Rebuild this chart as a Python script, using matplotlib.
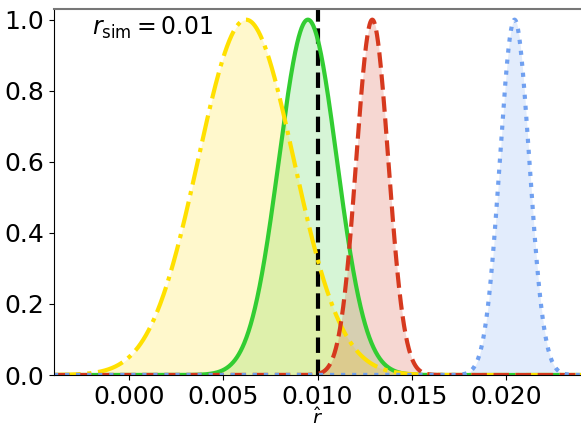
import numpy as np
import matplotlib
matplotlib.use("Agg")
import matplotlib.pyplot as plt

# Simulated rate and the estimated distributions of r-hat (normalised to peak 1)
r_sim = 0.01
names = ["est_b", "est_a", "est_c", "est_d"]
centers = [0.00949, 0.0062, 0.01291, 0.02047]
widths = [0.00154, 0.00254, 0.00085, 0.00078]
line_colors = ["#32CD32", "#FFE000", "#D6391E", "#70A0F0"]
line_styles = ["-", "-.", "--", ":"]

x_min, x_max = -0.004, 0.024
x_ticks = [0.000, 0.005, 0.010, 0.015, 0.020]
y_ticks = [0.0, 0.2, 0.4, 0.6, 0.8, 1.0]

fig = plt.figure(figsize=(5.81, 4.23), dpi=100)
ax = fig.add_axes([54 / 581, 48 / 423, 527 / 581, 366 / 423])

x = np.linspace(x_min, x_max, 2000)
ax.axvline(r_sim, color="black", ls="--", lw=3)
for name, mu, sd, c, ls in zip(names, centers, widths, line_colors, line_styles):
    y = np.exp(-0.5 * ((x - mu) / sd) ** 2)
    ax.fill_between(x, 0, y, color=c, alpha=0.2, lw=0)
    ax.plot(x, y, color=c, ls=ls, lw=3, label=name)

ax.set_xlim(x_min, x_max)
ax.set_ylim(0, 1.03)
ax.set_xticks(x_ticks)
ax.set_xticklabels([f"{t:.3f}" for t in x_ticks])
ax.set_yticks(y_ticks)
ax.set_yticklabels([f"{t:.1f}" for t in y_ticks])
ax.tick_params(labelsize=18)
ax.set_xlabel(r"$\hat{r}$", fontsize=14, labelpad=-1)

ax.spines["right"].set_visible(False)
ax.spines["top"].set_color("#777777")
ax.spines["top"].set_linewidth(1.5)

ax.text(0.072, 0.985, r"$r_{\rm sim} = 0.01$", transform=ax.transAxes,
        fontsize=17, ha="left", va="top")

fig.savefig("out.png", dpi=100)
